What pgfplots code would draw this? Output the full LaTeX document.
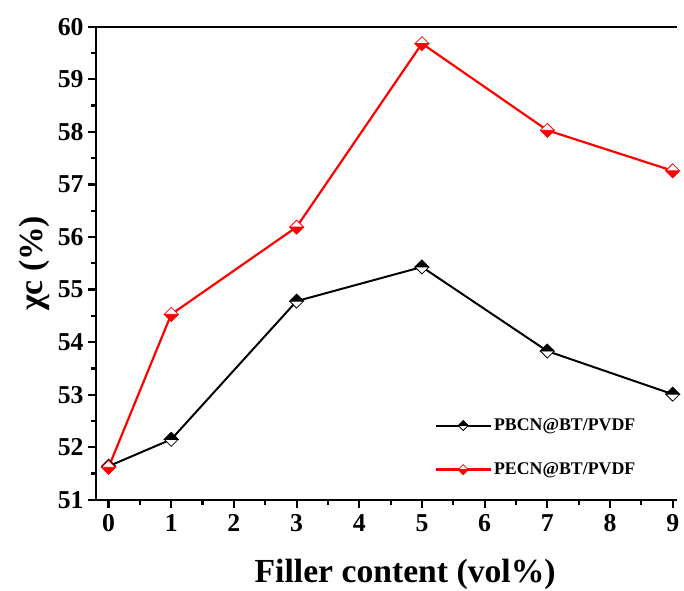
\documentclass[border=0pt]{standalone}
\usepackage{fontspec}
\setmainfont{Liberation Serif}
\usepackage{pgfplots}
\pgfplotsset{compat=1.18}

\pgfdeclareplotmark{hdtop}{%
 \pgfpathmoveto{\pgfqpoint{0pt}{\pgfplotmarksize}}%
 \pgfpathlineto{\pgfqpoint{\pgfplotmarksize}{0pt}}%
 \pgfpathlineto{\pgfqpoint{0pt}{-\pgfplotmarksize}}%
 \pgfpathlineto{\pgfqpoint{-\pgfplotmarksize}{0pt}}%
 \pgfpathclose
 \pgfsetfillcolor{white}%
 \pgfusepath{fill,stroke}%
 \pgfpathmoveto{\pgfqpoint{0pt}{\pgfplotmarksize}}%
 \pgfpathlineto{\pgfqpoint{\pgfplotmarksize}{0pt}}%
 \pgfpathlineto{\pgfqpoint{-\pgfplotmarksize}{0pt}}%
 \pgfpathclose
 \pgfsetfillcolor{black}%
 \pgfusepath{fill,stroke}%
}
\pgfdeclareplotmark{hdbot}{%
 \pgfpathmoveto{\pgfqpoint{0pt}{\pgfplotmarksize}}%
 \pgfpathlineto{\pgfqpoint{\pgfplotmarksize}{0pt}}%
 \pgfpathlineto{\pgfqpoint{0pt}{-\pgfplotmarksize}}%
 \pgfpathlineto{\pgfqpoint{-\pgfplotmarksize}{0pt}}%
 \pgfpathclose
 \pgfsetfillcolor{white}%
 \pgfusepath{fill,stroke}%
 \pgfpathmoveto{\pgfqpoint{0pt}{-\pgfplotmarksize}}%
 \pgfpathlineto{\pgfqpoint{\pgfplotmarksize}{0pt}}%
 \pgfpathlineto{\pgfqpoint{-\pgfplotmarksize}{0pt}}%
 \pgfpathclose
 \pgfsetfillcolor{red}%
 \pgfusepath{fill,stroke}%
}

\begin{document}
\begin{tikzpicture}
\begin{axis}[
  scale only axis,
  width=587pt, height=478pt,
  xmin=-0.2, xmax=9.07,
  ymin=51, ymax=60,
  axis lines*=left,
  axis line style={line width=2.4pt},
  xtick={0,1,...,9}, ytick={51,52,...,60},
  minor x tick num=1, minor y tick num=1,
  tick align=outside,
  major tick length=8pt, minor tick length=5pt,
  every tick/.style={line width=2.2pt, black},
  /pgf/number format/assume math mode=true,
  ticklabel style={font=\bfseries\fontsize{26}{26}\selectfont},
  xticklabel style={yshift=-3pt},
  yticklabel style={xshift=-1pt},
  xlabel={Filler content (vol\%)},
  ylabel={χc (\%)},
  label style={font=\bfseries\fontsize{34}{34}\selectfont},
  xlabel style={at={(rel axis cs:0.532,0)}, anchor=center, yshift=-75pt},
  ylabel style={at={(axis description cs:-0.106,0.5)}, anchor=center},
  legend style={draw=none, fill=none, at={(rel axis cs:0.577,0.18)}, anchor=north west,
    font=\bfseries\fontsize{18}{18}\selectfont, row sep=27pt},
  legend cell align=left,
  legend image code/.code={\draw[mark repeat=2, mark phase=2, mark size=5pt, #1] plot coordinates {(0pt,0pt) (28pt,0pt) (56pt,0pt)};},
  clip=false,
]
\coordinate (bl) at (rel axis cs:0,0);
\coordinate (tr) at (rel axis cs:1,1);
\addplot[black, line width=2pt, mark=hdtop, mark size=7pt, mark options={line width=0.8pt, solid}]
  coordinates {(0,51.64) (1,52.15) (3,54.78) (5,55.43) (7,53.83) (9,53.01)};
\addlegendentry{PBCN@BT/PVDF}
\addplot[red, line width=2.2pt, mark=hdbot, mark size=7pt, mark options={line width=0.8pt, solid}]
  coordinates {(0,51.62) (1,54.53) (3,56.19) (5,59.68) (7,58.03) (9,57.26)};
\addlegendentry{PECN@BT/PVDF}
\draw[line width=2.4pt] (rel axis cs:0,1) -- (rel axis cs:1,1);
\end{axis}
\pgfresetboundingbox
\path[use as bounding box] ([xshift=-97pt,yshift=-92pt]bl) rectangle ([xshift=7pt,yshift=27pt]tr);
\end{tikzpicture}
\end{document}
